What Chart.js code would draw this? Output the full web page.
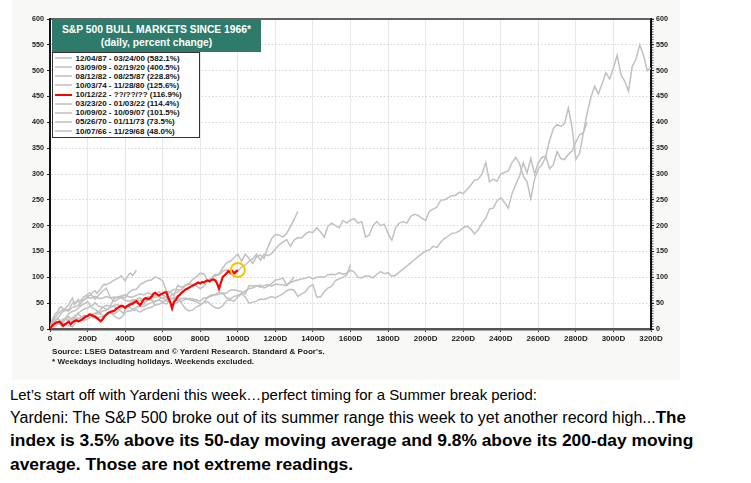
<!DOCTYPE html>
<html><head><meta charset="utf-8">
<script src="https://cdn.jsdelivr.net/npm/chart.js@4"></script>
<style>
html,body{margin:0;padding:0;background:#fff;width:751px;height:483px;overflow:hidden;font-family:"Liberation Sans",Arial,sans-serif;}
#bg{position:absolute;left:12px;top:0;width:668px;height:380px;background:#f8f8f6;}
#wrap{position:absolute;left:0;top:0;width:751px;height:380px;}
#title{position:absolute;left:52px;top:20px;width:209px;height:32px;background:#2e7b6b;color:#fff;font-weight:bold;font-size:10.3px;text-align:center;line-height:13.5px;padding-top:2.5px;box-sizing:border-box;}
#legend{position:absolute;left:52px;top:52px;width:148px;height:86px;background:#fff;border:1.5px solid #333;box-sizing:border-box;}
.row{position:absolute;left:0;height:9px;font-size:8px;font-weight:bold;line-height:9px;color:#111;white-space:nowrap;}
.sw{position:absolute;left:1.5px;top:3.5px;width:17px;height:2px;}
.txt{position:absolute;left:22.5px;top:0;}
#src{position:absolute;left:52px;top:347px;font-size:8.1px;font-weight:bold;color:#222;line-height:10px;white-space:nowrap;}
#para{position:absolute;left:10px;top:382.5px;color:#000;white-space:nowrap;}
#para div{height:23.4px;line-height:23.4px;}
.l1{font-size:14.95px;}
.l2{font-size:16px;}
.bb{font-size:17.4px;font-weight:bold;}
</style>
</head>
<body>
<div id="bg"></div>
<div id="wrap"><canvas id="c" width="751" height="380"></canvas></div>
<div id="title">S&amp;P 500 BULL MARKETS SINCE 1966*<br>(daily, percent change)</div>
<div id="legend"></div>
<div id="src">Source: LSEG Datastream and © Yardeni Research. Standard &amp; Poor's.<br>* Weekdays including holidays. Weekends excluded.</div>
<div id="para">
<div class="l1">Let’s start off with Yardeni this week…perfect timing for a Summer break period:</div>
<div class="l2">Yardeni: The S&amp;P 500 broke out of its summer range this week to yet another record high...<span class="bb" style="font-size:17px">The</span></div>
<div class="bb">index is 3.5% above its 50-day moving average and 9.8% above its 200-day moving</div>
<div class="bb">average. Those are not extreme readings.</div>
</div>
<script>
// ---- DATA ----
const seriesNames = [
  '12/04/87 - 03/24/00 (582.1%)',
  '03/09/09 - 02/19/20 (400.5%)',
  '08/12/82 - 08/25/87 (228.8%)',
  '10/03/74 - 11/28/80 (125.6%)',
  '10/12/22 - ??/??/?? (116.9%)',
  '03/23/20 - 01/03/22 (114.4%)',
  '10/09/02 - 10/09/07 (101.5%)',
  '05/26/70 - 01/11/73 (73.5%)',
  '10/07/66 - 11/29/68 (48.0%)'
];
// day spacing between successive values of each series
const seriesSteps = [20, 20, 20, 20, 10, 10, 20, 10, 10];

const s1987 = [0,10,12,17,20,16,15,22,20,16,19,24,21,23,24,29,33,29,34,41,43,47,56,57,60,52,55,58,46,48,51,48,57,61,62,50,40,35,37,43,46,52,62,66,67,71,68,70,75,76,74,72,68,84,83,84,81,84,86,83,87,86,85,84,90,93,95,97,98,101,97,100,101,100,105,106,105,109,106,108,114,110,100,99,103,102,99,106,111,107,109,102,104,110,116,122,128,134,140,146,151,153,160,158,168,175,180,185,186,190,196,199,194,184,192,205,214,232,234,248,254,245,234,262,280,296,322,302,330,300,322,332,335,365,388,396,392,398,428,390,328,340,380,418,448,470,455,475,496,484,505,530,492,480,460,508,522,550,530,500,505];
const s2009 = [0,19,28,36,37,38,50,53,55,56,63,66,58,66,73,79,62,53,57,63,60,71,76,77,86,90,94,95,101,98,93,73,72,64,85,80,85,88,96,101,108,106,93,98,103,105,112,115,106,103,112,120,124,131,136,145,133,145,142,146,155,163,168,173,160,172,177,176,184,188,187,196,188,178,199,205,200,196,210,205,211,213,205,208,178,182,200,208,200,203,185,172,196,205,208,205,218,222,220,214,210,228,232,236,249,250,254,258,259,265,262,270,278,288,290,300,322,285,290,286,300,303,306,322,332,320,296,285,252,290,310,318,334,310,318,343,330,328,338,345,362,376,380,400];
const s1982 = [0,18,19,31,36,35,42,44,48,56,61,60,63,59,60,63,60,62,61,60,55,54,56,50,48,47,62,63,61,63,60,63,72,77,76,76,84,87,86,84,78,83,92,99,106,106,118,128,131,138,145,131,145,136,127,140,143,137,158,175,183,182,178,185,198,212,228];
const s1974 = [0,19,13,6,20,30,34,37,44,48,53,42,38,33,42,46,44,58,62,64,66,62,62,65,68,66,70,67,64,72,66,61,58,59,55,59,60,57,55,53,48,51,53,46,41,40,45,55,56,54,62,68,62,50,52,54,58,57,60,63,60,64,68,74,77,75,63,68,72,82,86,62,62,72,79,83,94,97,100,105,125];
const s2022 = [0,6,9,12,13,14,11,6,9,12,14,9,13,15,17,15,16,18,21,24,25,28,27,25,24,21,18,15,19,24,28,31,33,34,35,38,41,43,45,44,41,44,46,48,49,52,54,50,46,52,58,60,58,59,62,68,70,67,65,67,69,71,71,60,52,40,53,56,63,66,70,73,76,78,80,82,84,86,88,90,88,91,90,93,94,92,95,96,94,88,78,90,101,104,108,112,109,112,108,111,114];
const s2020 = [0,17,24,30,33,41,43,38,40,43,47,54,60,47,52,57,46,58,62,64,67,70,68,72,74,69,74,78,84,87,85,88,89,92,94,96,98,100,103,98,93,100,106,108,104,108,114];
const s2002 = [0,14,21,14,10,6,4,15,21,26,25,28,30,29,35,36,42,46,47,44,42,44,38,42,44,43,48,51,54,56,53,55,51,48,52,54,57,59,58,56,54,60,61,64,66,67,70,60,58,63,65,69,74,78,80,83,85,79,83,88,95,96,99,85,92,101];
const s1970 = [0,6,4,5,9,13,15,18,20,22,24,20,18,24,27,31,33,36,38,40,40,43,45,47,51,47,44,43,42,40,38,38,42,43,44,42,40,36,34,30,36,44,47,49,50,52,54,55,55,54,56,55,58,57,55,54,53,55,57,60,59,58,56,60,62,67,68,70,72,73];
const s1966 = [0,5,10,9,10,11,10,14,18,18,19,20,22,24,27,29,26,22,23,24,26,29,29,28,30,33,32,29,27,25,28,30,32,30,26,23,21,20,23,26,32,34,35,35,37,36,38,34,33,35,37,39,40,41,42,44,48];

const seriesValues = [s1987, s2009, s1982, s1974, s2022, s2020, s2002, s1970, s1966];
const highlightIndex = 4;

const xTickValues = [0,200,400,600,800,1000,1200,1400,1600,1800,2000,2200,2400,2600,2800,3000,3200];
const xTickLabels = ['0','200D','400D','600D','800D','1000D','1200D','1400D','1600D','1800D','2000D','2200D','2400D','2600D','2800D','3000D','3200D'];
const yMin = 0, yMax = 600, yStep = 50;

// ---- STYLE ----
const GRAY = '#c1c1c1', RED = '#ff0000', YELLOW = '#f5c400';

const datasets = seriesValues.map((vals, k) => ({
  label: seriesNames[k],
  data: vals.map((v, i) => ({x: i * seriesSteps[k], y: v})),
  borderColor: k === highlightIndex ? RED : GRAY,
  borderWidth: k === highlightIndex ? 2.2 : 1.5,
  pointRadius: 0,
  tension: 0,
  order: k === highlightIndex ? 1 : 2,
  yAxisID: 'y'
}));
const redData = datasets[highlightIndex].data;
datasets.push({
  label: 'marker',
  data: [redData[redData.length - 1]],
  showLine: false,
  pointRadius: 7,
  pointHoverRadius: 7,
  pointBorderWidth: 2,
  pointBorderColor: YELLOW,
  pointBackgroundColor: 'rgba(0,0,0,0)',
  order: 0,
  yAxisID: 'y'
});

// HTML legend from series names
const leg = document.getElementById('legend');
seriesNames.forEach((n, i) => {
  const r = document.createElement('div');
  r.className = 'row';
  r.style.top = (0.5 + i * 9.125) + 'px';
  r.style.width = '140px';
  const sw = document.createElement('div');
  sw.className = 'sw';
  sw.style.background = i === highlightIndex ? RED : '#cfcfcf';
  const t = document.createElement('div');
  t.className = 'txt';
  t.textContent = n;
  r.appendChild(sw); r.appendChild(t);
  leg.appendChild(r);
});

const framePlugin = {
  id: 'frame',
  beforeDraw(chart) {
    const {ctx, chartArea: a} = chart;
    ctx.save();
    ctx.fillStyle = '#ffffff';
    ctx.fillRect(a.left, a.top, a.right - a.left, a.bottom - a.top);
    ctx.restore();
  },
  afterDraw(chart) {
    const {ctx, chartArea: a} = chart;
    const y2 = chart.scales.y2;
    ctx.save();
    ctx.strokeStyle = '#333';
    ctx.lineWidth = 1.5;
    ctx.beginPath();
    ctx.moveTo(a.left, a.top); ctx.lineTo(a.right, a.top);
    ctx.stroke();
    // minor ticks on right axis
    ctx.strokeStyle = '#222';
    ctx.lineWidth = 0.8;
    ctx.beginPath();
    for (let v = yMin; v <= yMax; v += 5) {
      const p = y2.getPixelForValue(v);
      ctx.moveTo(a.right + 1, p); ctx.lineTo(a.right + 2.5, p);
    }
    ctx.stroke();
    ctx.restore();
  }
};

const tickFont = {family: '"Liberation Sans", Arial, sans-serif', size: 8, weight: 'bold'};

new Chart(document.getElementById('c'), {
  type: 'line',
  data: {datasets},
  plugins: [framePlugin],
  options: {
    responsive: false,
    animation: false,
    events: [],
    layout: {padding: {top: 19, left: 0, right: 0, bottom: 0}},
    plugins: {legend: {display: false}, title: {display: false}, tooltip: {enabled: false}},
    scales: {
      x: {
        type: 'linear', min: 0, max: 3200,
        afterBuildTicks: s => { s.ticks = xTickValues.map(v => ({value: v})); },
        afterFit: s => { s.height = 51; },
        ticks: {
          autoSkip: false, maxRotation: 0, padding: 1.5, color: '#222', font: tickFont,
          callback: (v) => { const i = xTickValues.indexOf(v); return i >= 0 ? xTickLabels[i] : ''; }
        },
        grid: {color: '#e8e8e8', lineWidth: 1, tickLength: 3, tickColor: '#333', drawTicks: true},
        border: {display: true, color: '#555', width: 2.5}
      },
      y: {
        type: 'linear', position: 'left', min: yMin, max: yMax,
        afterFit: s => { s.width = 50; },
        ticks: {stepSize: yStep, padding: 3, color: '#222', font: {...tickFont, size: 7.2}},
        grid: {color: '#d6d6d6', lineWidth: 1, tickLength: 3, tickColor: '#222'},
        border: {display: true, color: '#111', width: 2, dash: [1.5, 2]}
      },
      y2: {
        type: 'linear', position: 'right', min: yMin, max: yMax,
        afterFit: s => { s.width = 100; },
        ticks: {stepSize: yStep, padding: 2, color: '#222', font: {...tickFont, size: 7.2}},
        grid: {drawOnChartArea: false, tickLength: 3, tickColor: '#222'},
        border: {display: true, color: '#111', width: 2}
      }
    }
  }
});
</script>
</body></html>
